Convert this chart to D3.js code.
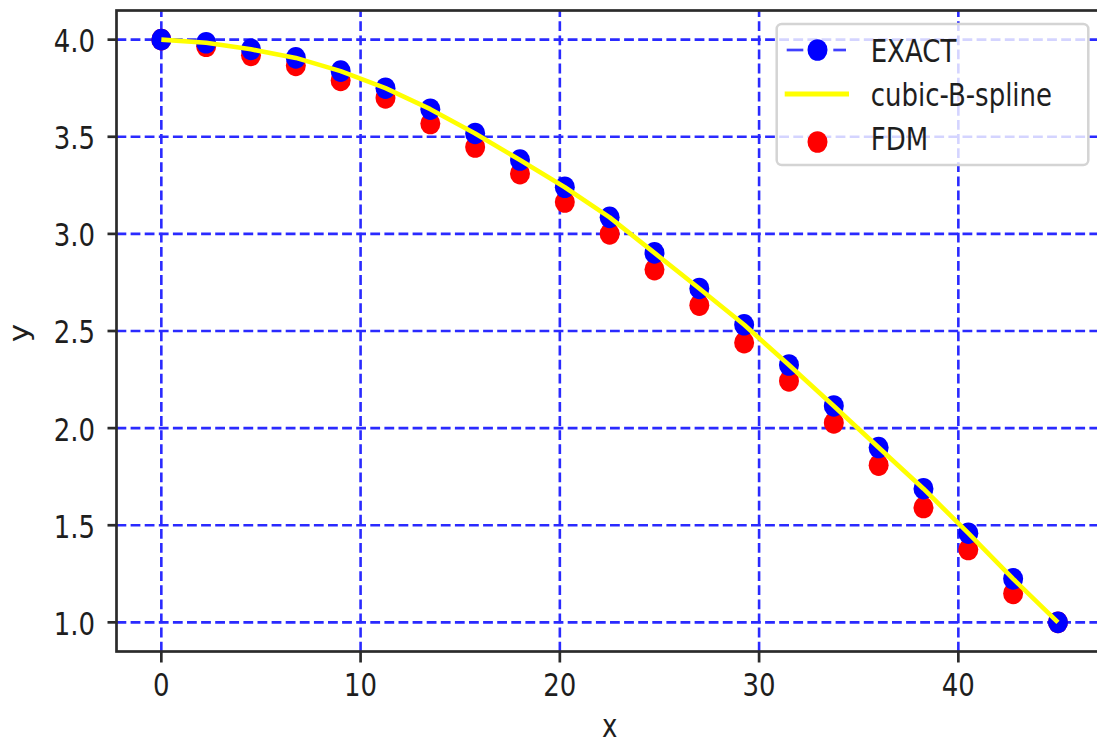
<!DOCTYPE html>
<html>
<head>
<meta charset="utf-8">
<script src="https://cdn.jsdelivr.net/npm/d3@7"></script>
<style>
html,body{margin:0;padding:0;background:#fff;}
svg{display:block;}
text{font-family:"DejaVu Sans",sans-serif;fill:#1e1e1e;}
</style>
</head>
<body>
<svg id="chart" width="1097" height="744"></svg>
<script>
// ---- data ----
const xNodes = [0, 2.25, 4.5, 6.75, 9, 11.25, 13.5, 15.75, 18, 20.25, 22.5,
                24.75, 27, 29.25, 31.5, 33.75, 36, 38.25, 40.5, 42.75, 45];
const exactY = [4.0, 3.984, 3.950, 3.906, 3.838, 3.750, 3.642, 3.517, 3.380, 3.240, 3.085,
                2.902, 2.719, 2.532, 2.325, 2.114, 1.900, 1.688, 1.459, 1.224, 1.0];
const splineY = [4.0, 3.984, 3.950, 3.906, 3.838, 3.750, 3.642, 3.517, 3.380, 3.240, 3.085,
                 2.902, 2.719, 2.532, 2.325, 2.114, 1.900, 1.688, 1.459, 1.224, 1.0];
const fdmY   = [4.0, 3.966, 3.919, 3.867, 3.790, 3.700, 3.568, 3.447, 3.310, 3.164, 3.000,
                2.816, 2.633, 2.440, 2.243, 2.027, 1.809, 1.591, 1.375, 1.149, 1.0];
const xTicks = [0, 10, 20, 30, 40];
const yTicks = [1.0, 1.5, 2.0, 2.5, 3.0, 3.5, 4.0];
const legendLabels = ["EXACT", "cubic-B-spline", "FDM"];
const xLabel = "x", yLabel = "y";

// ---- layout ----
const svg = d3.select("#chart");
const L = 116.5, R = 1102.8, T = 10.5, B = 651.5;
const SY = 1.2;      // vertical stretch of glyphs / markers seen in the reference
const FS = 26;       // font size
const x = d3.scaleLinear().domain([-2.25, 47.25]).range([L, R]);
const y = d3.scaleLinear().domain([0.85, 4.15]).range([B, T]);
const gridColor = "#2a2aff";
const blue = "#0000ff", red = "#ff0000", yellow = "#ffff00";

function stretchedText(parent, px, py, str, anchor, rotate) {
  const g = parent.append("g")
    .attr("transform", `translate(${px},${py}) scale(1,${SY})` + (rotate ? " rotate(-90)" : ""));
  g.append("text").attr("x", 0).attr("y", 0)
    .attr("text-anchor", anchor).attr("font-size", FS).text(str);
  return g;
}

// clip
svg.append("defs").append("clipPath").attr("id", "plotclip")
  .append("rect").attr("x", L).attr("y", T).attr("width", R - L).attr("height", B - T);

// grid
const grid = svg.append("g").attr("clip-path", "url(#plotclip)");
grid.selectAll("line.gx").data(xTicks).join("line")
  .attr("x1", d => x(d)).attr("x2", d => x(d)).attr("y1", B).attr("y2", T)
  .attr("stroke", gridColor).attr("stroke-width", 2.6).attr("stroke-dasharray", "9.8,4.3");
grid.selectAll("line.gy").data(yTicks).join("line")
  .attr("x1", L).attr("x2", R).attr("y1", d => y(d)).attr("y2", d => y(d))
  .attr("stroke", gridColor).attr("stroke-width", 2.6).attr("stroke-dasharray", "9.8,4.3");

const plot = svg.append("g").attr("clip-path", "url(#plotclip)");
// FDM scatter (drawn beneath lines)
plot.selectAll("ellipse.fdm").data(xNodes).join("ellipse")
  .attr("cx", (d) => x(d)).attr("cy", (d, i) => y(fdmY[i]))
  .attr("rx", 10).attr("ry", 10.8).attr("fill", red);
// EXACT dashed line + markers
const lineGen = d3.line().x(d => x(d[0])).y(d => y(d[1]));
plot.append("path").datum(xNodes.map((d, i) => [d, exactY[i]]))
  .attr("d", lineGen).attr("fill", "none").attr("stroke", blue)
  .attr("stroke-width", 2.7).attr("stroke-dasharray", "10,4.4");
plot.selectAll("ellipse.ex").data(xNodes).join("ellipse")
  .attr("cx", (d) => x(d)).attr("cy", (d, i) => y(exactY[i]))
  .attr("rx", 10).attr("ry", 10.8).attr("fill", blue);
// cubic B-spline line
plot.append("path").datum(xNodes.map((d, i) => [d, splineY[i]]))
  .attr("d", lineGen).attr("fill", "none").attr("stroke", yellow)
  .attr("stroke-width", 4.6).attr("stroke-linejoin", "round");

// axes (spines + ticks)
const axG = svg.append("g");
axG.append("rect").attr("x", L).attr("y", T).attr("width", R - L).attr("height", B - T)
  .attr("fill", "none").attr("stroke", "#2b2b2b").attr("stroke-width", 2.7);
axG.selectAll("line.tx").data(xTicks).join("line")
  .attr("x1", d => x(d)).attr("x2", d => x(d)).attr("y1", B).attr("y2", B + 11)
  .attr("stroke", "#2b2b2b").attr("stroke-width", 2.7);
axG.selectAll("line.ty").data(yTicks).join("line")
  .attr("x1", L - 9).attr("x2", L).attr("y1", d => y(d)).attr("y2", d => y(d))
  .attr("stroke", "#2b2b2b").attr("stroke-width", 2.7);

const fmt = d3.format(".1f");
xTicks.forEach(t => stretchedText(axG, x(t), 696, String(t), "middle"));
yTicks.forEach(t => stretchedText(axG, 95, y(t) + 1 + 11.4, fmt(t), "end"));
stretchedText(axG, (L + R) / 2, 737, xLabel, "middle");
stretchedText(axG, 27.6, 333, yLabel, "middle", true);

// legend
const lg = svg.append("g");
lg.append("rect").attr("x", 776.7).attr("y", 24).attr("width", 311.6).attr("height", 141)
  .attr("rx", 5).attr("ry", 5)
  .attr("fill", "rgba(255,255,255,0.8)").attr("stroke", "#d4d4d4").attr("stroke-width", 2.5);
const hx0 = 786.7, hx1 = 847, hxm = 817.5;
const rows = [50, 94, 142];
// EXACT handle: dashed segments either side of the marker
[[hx0, 803.3], [833.3, 846]].forEach(s => {
  lg.append("line").attr("x1", s[0]).attr("x2", s[1]).attr("y1", rows[0]).attr("y2", rows[0])
    .attr("stroke", blue).attr("stroke-opacity", 0.75).attr("stroke-width", 2.7);
});
lg.append("ellipse").attr("cx", hxm).attr("cy", rows[0]).attr("rx", 10).attr("ry", 10.8).attr("fill", blue);
// spline handle
lg.append("line").attr("x1", hx0 - 2).attr("x2", hx1 + 2).attr("y1", rows[1]).attr("y2", rows[1])
  .attr("stroke", yellow).attr("stroke-width", 5);
// FDM handle
lg.append("ellipse").attr("cx", hxm).attr("cy", rows[2]).attr("rx", 10).attr("ry", 10.8).attr("fill", red);
const baselines = [62.3, 106.2, 150];
legendLabels.forEach((s, i) => stretchedText(lg, 870.7, baselines[i], s, "start"));
</script>
</body>
</html>
